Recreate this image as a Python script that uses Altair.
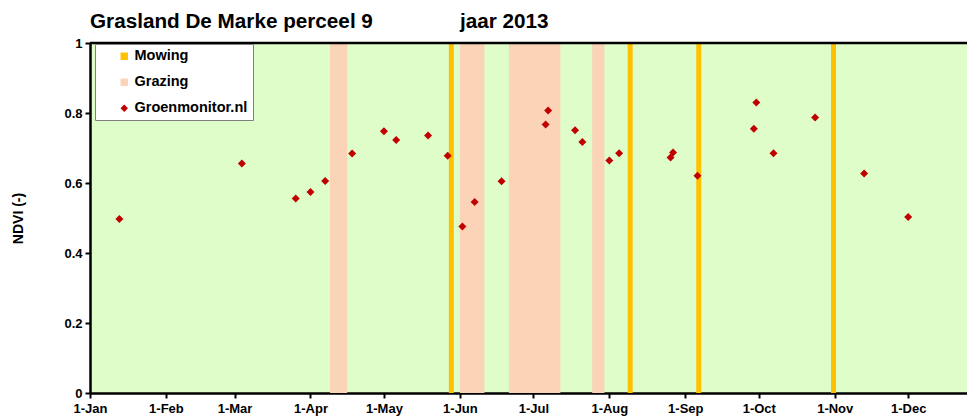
import altair as alt
import pandas as pd

# ---- text ----
title_left = "Grasland De Marke perceel 9"
title_right = "jaar 2013"
y_axis_title = "NDVI (-)"

# ---- data ----
ndvi_dates = ["2013-01-13", "2013-03-04", "2013-03-26", "2013-04-01", "2013-04-07",
              "2013-04-18", "2013-05-01", "2013-05-06", "2013-05-19", "2013-05-27",
              "2013-06-02", "2013-06-07", "2013-06-18", "2013-07-06", "2013-07-07",
              "2013-07-18", "2013-07-21", "2013-08-01", "2013-08-05", "2013-08-26",
              "2013-08-27", "2013-09-06", "2013-09-29", "2013-09-30", "2013-10-07",
              "2013-10-24", "2013-11-13", "2013-12-01"]
ndvi_values = [0.497, 0.656, 0.556, 0.574, 0.606,
               0.684, 0.748, 0.723, 0.736, 0.678,
               0.476, 0.546, 0.605, 0.767, 0.807,
               0.751, 0.717, 0.664, 0.685, 0.673,
               0.687, 0.621, 0.755, 0.830, 0.685,
               0.787, 0.627, 0.503]

mowing_dates = ["2013-05-28", "2013-08-09", "2013-09-06", "2013-10-31"]
grazing_start = ["2013-04-09", "2013-06-01", "2013-06-21", "2013-07-25"]
grazing_end = ["2013-04-16", "2013-06-11", "2013-07-12", "2013-07-30"]

month_ticks = ["2013-01-01", "2013-02-01", "2013-03-01", "2013-04-01", "2013-05-01",
               "2013-06-01", "2013-07-01", "2013-08-01", "2013-09-01", "2013-10-01",
               "2013-11-01", "2013-12-01"]
month_labels = ["1-Jan", "1-Feb", "1-Mar", "1-Apr", "1-May", "1-Jun",
                "1-Jul", "1-Aug", "1-Sep", "1-Oct", "1-Nov", "1-Dec"]
x_start = "2013-01-01"
x_end = "2013-12-25"
y_ticks = [0, 0.2, 0.4, 0.6, 0.8, 1]

series_names = ["Mowing", "Grazing", "Groenmonitor.nl"]
series_colors = ["#FFC000", "#FBD3B6", "#C00000"]
series_shapes = ["square", "square", "diamond"]


def doy(dates):
    return [int(d) - 1 for d in pd.to_datetime(pd.Series(dates)).dt.dayofyear]


pts = pd.DataFrame({"day": doy(ndvi_dates), "ndvi": ndvi_values, "series": "Groenmonitor.nl"})
mow = pd.DataFrame({"day": [d + 0.5 for d in doy(mowing_dates)], "series": "Mowing"})
graz = pd.DataFrame({"start": doy(grazing_start), "end": doy(grazing_end), "series": "Grazing"})
tick_days = doy(month_ticks)
x_domain = [doy([x_start])[0], doy([x_end])[0]]

W, H = 877, 350
FONT = "Liberation Sans"

label_expr = "{" + ",".join(f"'{d}':'{l}'" for d, l in zip(tick_days, month_labels)) + "}[datum.value]"

x_scale = alt.Scale(domain=x_domain, nice=False, zero=False)
y_scale = alt.Scale(domain=[0, 1], nice=False)

x_axis = alt.Axis(values=tick_days, labelExpr=label_expr, title=None, grid=False,
                  labelFont=FONT, labelFontSize=13, labelFontWeight="bold", labelColor="black",
                  domainColor="black", domainWidth=2.5, tickColor="black", tickWidth=2,
                  tickSize=5, labelPadding=4, labelFlush=False)
y_axis = alt.Axis(values=y_ticks, format="~g", title=y_axis_title, grid=False,
                  labelFont=FONT, labelFontSize=13, labelFontWeight="bold", labelColor="black",
                  domainColor="black", domainWidth=2.5, tickColor="black", tickWidth=2,
                  tickSize=5, labelPadding=3,
                  titleFont=FONT, titleFontSize=14, titleFontWeight="bold", titleColor="black",
                  titleX=-72, titleY=H / 2, titleAngle=270, titleAlign="center",
                  titleBaseline="middle")

legend = alt.Legend(title=None, orient="none", legendX=5, legendY=1,
                    fillColor="white", strokeColor="#7f7f7f", padding=5,
                    symbolOffset=17, labelOffset=3, rowPadding=11,
                    labelFont=FONT, labelFontSize=14.5, labelFontWeight="bold",
                    labelColor="black", symbolSize=55, symbolStrokeWidth=0,
                    symbolOpacity=1)

color = alt.Color("series:N", scale=alt.Scale(domain=series_names, range=series_colors),
                  legend=legend)
shape = alt.Shape("series:N", scale=alt.Scale(domain=series_names, range=series_shapes),
                  legend=legend)

grazing_layer = alt.Chart(graz).mark_rect(opacity=1).encode(
    x=alt.X("start:Q", scale=x_scale, axis=x_axis),
    x2="end:Q",
    y=alt.datum(1, scale=y_scale),
    y2=alt.datum(0),
    color=color,
)

mowing_layer = alt.Chart(mow).mark_rule(strokeWidth=5, opacity=1).encode(
    x=alt.X("day:Q", scale=x_scale, axis=x_axis),
    y=alt.datum(1, scale=y_scale),
    y2=alt.datum(0),
    color=color,
)

points_layer = alt.Chart(pts).mark_point(filled=True, size=64, opacity=1, strokeWidth=0).encode(
    x=alt.X("day:Q", scale=x_scale, axis=x_axis),
    y=alt.Y("ndvi:Q", scale=y_scale, axis=y_axis),
    color=color,
    shape=shape,
)

top_line = alt.Chart(pd.DataFrame({"v": [1]})).mark_rule(color="black", strokeWidth=2.5).encode(
    x=alt.value(0), x2=alt.value(W), y=alt.Y("v:Q", scale=y_scale, axis=y_axis),
)

title_l = alt.Chart(pd.DataFrame({"t": [title_left]})).mark_text(
    font=FONT, fontSize=20.7, fontWeight="bold", color="black", align="left", baseline="alphabetic"
).encode(text="t:N", x=alt.value(0), y=alt.value(-15))

title_r = alt.Chart(pd.DataFrame({"t": [title_right]})).mark_text(
    font=FONT, fontSize=20.7, fontWeight="bold", color="black", align="left", baseline="alphabetic"
).encode(text="t:N", x=alt.value(370), y=alt.value(-15))

chart = alt.layer(grazing_layer, mowing_layer, points_layer, top_line, title_l, title_r).properties(
    width=W, height=H,
    autosize=alt.AutoSizeParams(type="none"),
    padding={"left": 82, "top": 35, "right": 0, "bottom": 26},
    background="white",
).configure_view(stroke=None, fill="#DFFDC9")

chart.save("out.html", embed_options={"renderer": "svg", "actions": False})
